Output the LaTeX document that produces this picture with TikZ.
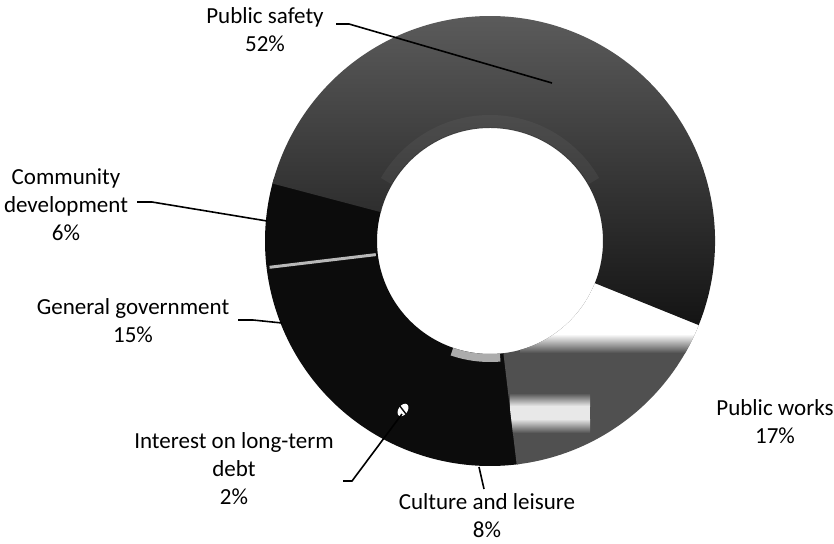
\documentclass[tikz,border=0pt]{standalone}
\usepackage{fontspec}
\setmainfont{Carlito}
\definecolor{psTop}{HTML}{5E5E5E}
\definecolor{psMid}{HTML}{303030}
\definecolor{psBot}{HTML}{141414}
\definecolor{pwGray}{HTML}{505050}
\definecolor{ink}{HTML}{0C0C0C}
\definecolor{band}{HTML}{E8E8E8}
\newcommand\Ro{225}
\newcommand\Ri{113}
\newcommand\ringseg[2]{(#1:\Ro) arc[start angle=#1,end angle=#2,radius=\Ro] -- (#2:\Ri) arc[start angle=#2,end angle=#1,radius=\Ri] -- cycle}
\begin{document}
\begin{tikzpicture}[x=1pt,y=-1pt,
  lbl/.style={font=\fontsize{23}{28}\selectfont, align=center, inner sep=0pt, text=black},
  leader/.style={draw=black, line width=1.6pt},
  darkseg/.style={fill=ink}]
\useasboundingbox[fill=white] (0,0) rectangle (834,543);

% ---------- donut ----------
\begin{scope}[shift={(490,241)}, y=1pt]
  % dark slices as one area: community development 6%, general government 15%,
  % interest on long-term debt 2%, culture and leisure 8%
  \fill[darkseg] \ringseg{164}{277.5};
  % Public safety 52%
  \shade[top color=psTop, middle color=psMid, bottom color=psBot] \ringseg{-22}{165.2};
  % lighter bevel along the hole
  \draw[line width=12pt, color=gray, opacity=.14] (30:120) arc[start angle=30,end angle=150,radius=120];
  % Public works 17%
  \fill[pwGray] \ringseg{276.8}{338};
  \begin{scope}
    \clip \ringseg{276.8}{338};
    \fill[white] (30,-93) rectangle (240,0);
    \shade[top color=white, bottom color=pwGray] (30,-93) rectangle (240,-112);
    \shade[top color=pwGray, bottom color=band] (20,-152) rectangle (100,-165);
    \fill[band] (20,-165) rectangle (100,-178);
    \shade[top color=band, bottom color=pwGray] (20,-178) rectangle (100,-192);
  \end{scope}
  % light stripe between community development and general government
  \draw[gray!55, line width=3pt] (186.8:115) -- (186.8:222);
  % inner bevel on culture and leisure
  \draw[gray!65, line width=8pt] (251:117) arc[start angle=251,end angle=275,radius=117];
  % highlight spot
  \fill[white, rotate around={55:(-87,-169)}] (-87,-169) ellipse[x radius=7, y radius=4.5];
  \draw[ink, line width=1.4pt] (-91,-164) -- (-84,-173);
\end{scope}

% ---------- labels ----------
\node[lbl] (psl) at (265,30) {Public safety\\52\%};
\node[lbl] (cdl) at (66,205) {Community\\development\\6\%};
\node[lbl] (ggl) at (133,321) {General government\\15\%};
\node[lbl] (idl) at (234,469) {Interest on long-term\\debt\\2\%};
\node[lbl] (cll) at (487,516) {Culture and leisure\\8\%};
\node[lbl] (pwl) at (775,422) {Public works\\17\%};

% ---------- leader lines ----------
\coordinate (ps-a) at (336,24);  \coordinate (ps-b) at (349,24);  \coordinate (ps-c) at (552,83);
\coordinate (cd-a) at (137,202); \coordinate (cd-b) at (152,202); \coordinate (cd-c) at (267,221);
\coordinate (gg-a) at (238,320); \coordinate (gg-b) at (253,320); \coordinate (gg-c) at (282,323);
\coordinate (id-a) at (343,481); \coordinate (id-b) at (352,481); \coordinate (id-c) at (402,414);
\coordinate (cl-a) at (484,489); \coordinate (cl-c) at (479,467);
\draw[leader] (ps-a) -- (ps-b) -- (ps-c);
\draw[leader] (cd-a) -- (cd-b) -- (cd-c);
\draw[leader] (gg-a) -- (gg-b) -- (gg-c);
\draw[leader] (id-a) -- (id-b) -- (id-c);
\draw[leader] (cl-a) -- (cl-c);
\end{tikzpicture}
\end{document}
